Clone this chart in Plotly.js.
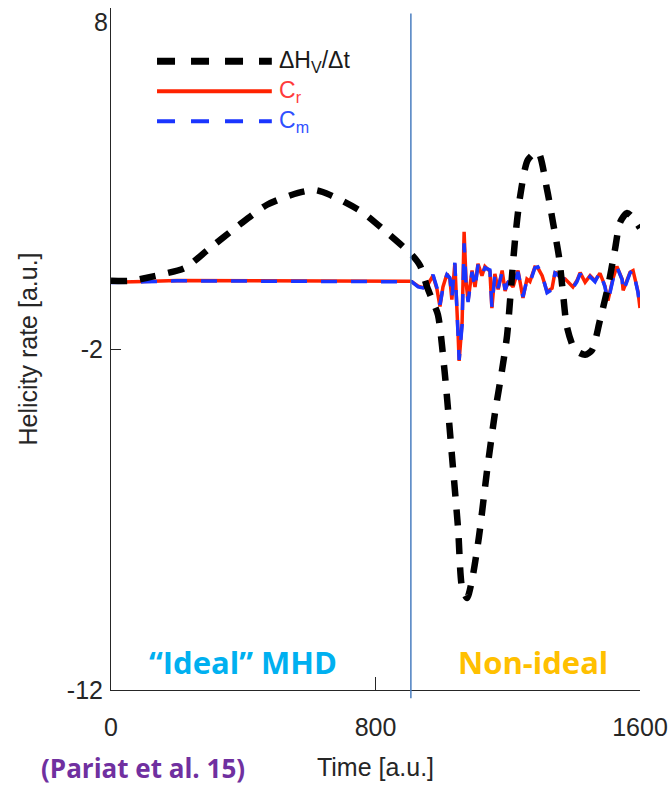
<!DOCTYPE html>
<html><head><meta charset="utf-8">
<script src="https://cdn.plot.ly/plotly-3.0.1.min.js"></script>
<style>html,body{margin:0;padding:0;background:#fff}</style>
</head><body>
<div id="chart" style="width:668px;height:785px"></div>
<script>
// ΔH_V/Δt (black dashed)
const timeH = [0, 60, 109, 160, 224, 293, 384, 472, 566, 617, 662, 759, 835, 910, 935, 956, 974, 989, 1010, 1031, 1050, 1062, 1077, 1092, 1113, 1137, 1161, 1183, 1198, 1210, 1222, 1237, 1261, 1291, 1319, 1337, 1355, 1367, 1379, 1403, 1434, 1455, 1479, 1503, 1524, 1540, 1561, 1579, 1600];
const helicityRate = [0, 0, 0.09, 0.2, 0.38, 0.91, 1.61, 2.23, 2.58, 2.66, 2.52, 2.02, 1.41, 0.76, 0.44, -0.18, -0.62, -1.00, -2.76, -5.1, -7.3, -9.0, -9.3, -8.77, -7.5, -5.6, -3.9, -2.6, -1.6, -0.2, 1.2, 2.45, 3.55, 3.78, 2.67, 1.70, 0.70, -0.35, -1.35, -2.02, -2.17, -2.03, -1.15, -0.18, 0.90, 1.72, 1.99, 1.84, 1.55];

// C_r (red) and C_m (blue dashed)
const timeC = [0, 50, 100, 200, 400, 600, 800, 880, 905,
  910, 929, 944, 959, 974, 986, 995, 1004, 1016, 1025,
  1031, 1040, 1050, 1053, 1062, 1065, 1068, 1074, 1080, 1092,
  1101, 1110, 1122, 1131, 1146, 1152, 1161, 1171, 1183, 1192,
  1201, 1216, 1231, 1246, 1258, 1267, 1282, 1291, 1304, 1319,
  1334, 1343, 1358, 1373, 1388, 1397, 1409, 1419, 1434, 1449,
  1464, 1479, 1494, 1503, 1518, 1530, 1546, 1549, 1570, 1579,
  1594, 1600];
const cR = [-0.04, -0.04, -0.02, 0.01, 0.0, -0.01, 0.0, 0.0, -0.01,
  -0.03, -0.16, -0.20, -0.10, 0.15, -0.25, -0.75, -0.18, 0.20, 0.05,
  -0.55, 0.50, -1.62, -2.35, -1.20, 0.25, 1.44, -0.05, -0.58, 0.30,
  -0.18, 0.50, 0.15, 0.42, 0.28, -0.80, 0.20, -0.25, 0.30, -0.30,
  -0.02, -0.18, 0.30, -0.50, 0.05, -0.02, 0.40, 0.38, 0.15, -0.32,
  -0.22, 0.26, 0.10, 0.06, -0.10, -0.18, 0.00, 0.24, -0.04, 0.15,
  0.00, 0.22, -0.15, -0.58, 0.06, 0.42, 0.05, -0.28, 0.25, 0.30,
  -0.32, -0.80];
const cM = [-0.05, -0.05, -0.03, 0.0, -0.01, -0.02, -0.01, -0.01, -0.02,
  -0.03, -0.18, -0.21, -0.12, 0.18, -0.21, -0.70, -0.21, 0.18, 0.09,
  -0.50, 0.53, -1.58, -2.32, -1.29, 0.18, 1.10, -0.12, -0.62, 0.26,
  -0.21, 0.47, 0.18, 0.38, 0.32, -0.76, 0.18, -0.21, 0.26, -0.26,
  -0.06, -0.21, 0.26, -0.47, 0.03, -0.06, 0.38, 0.41, 0.18, -0.35,
  -0.26, 0.23, 0.12, 0.03, -0.12, -0.21, -0.03, 0.21, -0.06, 0.12,
  -0.03, 0.26, -0.18, -0.62, 0.03, 0.41, 0.03, -0.32, 0.23, 0.32,
  -0.35, -0.79];

const xTicks = [0, 800, 1600];
const yTicksLower = [-12, -2];
const yTicksTop = [8];
const yRange = [-12, 8];
const tTransition = 907;

const seriesNames = ['ΔH<sub>V</sub>/Δt', 'C<sub>r</sub>', 'C<sub>m</sub>'];
const axisFont = {family: 'Liberation Sans, Arial, sans-serif', size: 25, color: '#262626'};
const annFont = 'Open Sans, sans-serif';

const traces = [
  {x: timeC, y: cR, type: 'scatter', mode: 'lines', name: seriesNames[1],
   line: {color: '#FF2200', width: 3.5}},
  {x: timeC, y: cM, type: 'scatter', mode: 'lines', name: seriesNames[2],
   line: {color: '#1A35FF', width: 3.5, dash: '16px,14px'}},
  {x: timeH, y: helicityRate, type: 'scatter', mode: 'lines', name: seriesNames[0],
   line: {color: '#000000', width: 6.5, dash: '16px,13px', shape: 'spline', smoothing: 0.7}},
  // empty carrier so the overlaid axis holding the top tick is drawn
  {x: [], y: [], type: 'scatter', mode: 'lines', yaxis: 'y2', hoverinfo: 'skip', showlegend: false}
];

const legX0 = 0.087, legX1 = 0.304, legTextX = 0.314;
const legY = [0.922, 0.878, 0.834];

const yBase = {
  range: yRange, ticks: 'inside', ticklen: 10, tickcolor: '#262626', tickwidth: 1,
  showgrid: false, zeroline: false, automargin: false,
  ticklabelstandoff: 2, ticklabeloverflow: 'allow', tickfont: axisFont
};

const layout = {
  width: 668, height: 785,
  margin: {l: 111, r: 28, t: 8, b: 95},
  paper_bgcolor: '#ffffff', plot_bgcolor: '#ffffff',
  showlegend: false,
  xaxis: {
    range: [0, 1600], tickvals: xTicks, ticktext: xTicks.map(String),
    ticks: 'inside', ticklen: 13, tickcolor: '#262626', tickwidth: 1,
    showline: true, linecolor: '#262626', linewidth: 1,
    showgrid: false, zeroline: false, automargin: false,
    ticklabelstandoff: 15, ticklabeloverflow: 'allow', tickfont: axisFont,
    title: {text: 'Time [a.u.]', font: axisFont, standoff: 18}
  },
  yaxis: Object.assign({}, yBase, {
    tickvals: yTicksLower, ticktext: yTicksLower.map(String),
    showline: true, linecolor: '#262626', linewidth: 1,
    title: {text: 'Helicity rate [a.u.]', font: axisFont, standoff: 22}
  }),
  yaxis2: Object.assign({}, yBase, {
    overlaying: 'y', side: 'left',
    tickvals: yTicksTop, ticktext: yTicksTop.map(String),
    showline: false, ticklabelshift: 14
  }),
  shapes: [
    {type: 'line', xref: 'x', yref: 'paper', x0: tTransition, x1: tTransition, y0: -0.012, y1: 0.992,
     line: {color: '#4A7EC0', width: 1.5}},
    {type: 'line', xref: 'paper', yref: 'paper', x0: legX0, x1: legX1, y0: legY[0], y1: legY[0],
     line: {color: '#000000', width: 7, dash: '18px,16px'}},
    {type: 'line', xref: 'paper', yref: 'paper', x0: legX0, x1: legX1, y0: legY[1], y1: legY[1],
     line: {color: '#FF2200', width: 4}},
    {type: 'line', xref: 'paper', yref: 'paper', x0: legX0, x1: legX1, y0: legY[2], y1: legY[2],
     line: {color: '#1A35FF', width: 4, dash: '18px,16px'}}
  ],
  annotations: [
    {xref: 'paper', yref: 'paper', x: legTextX, y: legY[0], xanchor: 'left', yanchor: 'middle', showarrow: false,
     text: seriesNames[0], font: {family: 'Liberation Sans, Arial, sans-serif', size: 23, color: '#1a1a1a'}},
    {xref: 'paper', yref: 'paper', x: legTextX, y: legY[1], xanchor: 'left', yanchor: 'middle', showarrow: false,
     text: seriesNames[1], font: {family: 'Liberation Sans, Arial, sans-serif', size: 23, color: '#FF3B3B'}},
    {xref: 'paper', yref: 'paper', x: legTextX, y: legY[2], xanchor: 'left', yanchor: 'middle', showarrow: false,
     text: seriesNames[2], font: {family: 'Liberation Sans, Arial, sans-serif', size: 23, color: '#3050FF'}},
    {xref: 'paper', yref: 'paper', x: 0.2486, y: 0.041, xanchor: 'center', yanchor: 'middle', showarrow: false,
     text: '“Ideal” MHD', font: {family: annFont, size: 31, color: '#00B0F0', weight: 'bold'}},
    {xref: 'paper', yref: 'paper', x: 0.7977, y: 0.041, xanchor: 'center', yanchor: 'middle', showarrow: false,
     text: 'Non-ideal', font: {family: annFont, size: 31, color: '#FFC000', weight: 'bold'}},
    {xref: 'paper', yref: 'paper', x: 0.0605, y: -0.115, xanchor: 'center', yanchor: 'middle', showarrow: false,
     text: '(Pariat et al. 15)', font: {family: annFont, size: 26, color: '#7030A0', weight: 'bold'}}
  ]
};

Plotly.newPlot('chart', traces, layout, {displayModeBar: false, staticPlot: true});
</script>
</body></html>
